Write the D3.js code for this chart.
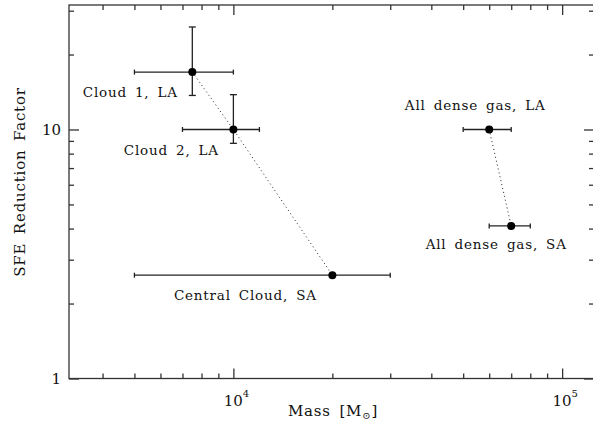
<!DOCTYPE html>
<html>
<head>
<meta charset="utf-8">
<script src="https://cdn.jsdelivr.net/npm/d3@7"></script>
<style>
  body { margin: 0; background: #fff; }
  svg { display: block; }
  text { font-family: "DejaVu Serif", "Liberation Serif", serif; fill: #111; }
  .wide { letter-spacing: 0.8px; word-spacing: 3px; }
  .axis path, .axis line { stroke: #333; stroke-width: 1.3; }
</style>
</head>
<body>
<svg id="chart" width="593" height="435"></svg>
<script>
// values
const names = ["Cloud 1, LA", "Cloud 2, LA", "Central Cloud, SA", "All dense gas, LA", "All dense gas, SA"]
const mass = [7500, 10000, 20000, 60000, 70000]
const massLow = [5000, 7000, 5000, 50000, 60000]
const massHigh = [10000, 12000, 30000, 70000, 80000]
const sfe = [17, 10, 2.6, 10, 4.1]
const sfeLow = [13.7, 8.8, null, null, null]
const sfeHigh = [25.8, 13.8, null, null, null]
const chains = [[0, 1, 2], [3, 4]]

const xMajor = [1e4, 1e5]
const xMinor = [4000, 5000, 6000, 7000, 8000, 9000, 20000, 30000, 40000, 50000, 60000, 70000, 80000, 90000]
const yMajor = [1, 10]
const yMinor = [2, 3, 4, 5, 6, 7, 8, 9, 20, 30]

// label placement relative to its point (centre of text, baseline)
const labelShift = [[-62, 25], [-62, 26], [-87, 25], [-14, -19], [-15, 23]]

let svg = d3.select('#chart')
let padLeft = 69, padRight = 594, padTop = 5, padBottom = 378.5

let xScale = d3.scaleLog().domain([3162, 125000]).range([padLeft, padRight])
let yScale = d3.scaleLog().domain([1, 31.62]).range([padBottom, padTop])

// frame
svg.append('rect').attr('x', padLeft).attr('y', padTop).attr('width', padRight - padLeft).attr('height', padBottom - padTop)
   .attr('fill', 'none').attr('stroke', '#333').attr('stroke-width', 1.3)

function addAxis(axisFn, ticks, size, transform){
    svg.append('g').attr('class', 'axis').attr('transform', transform)
       .call(axisFn.tickValues(ticks).tickSize(size).tickFormat(''))
       .call(g => g.select('.domain').remove())
}
addAxis(d3.axisBottom(xScale), xMajor, -10, `translate(0,${padBottom})`)
addAxis(d3.axisBottom(xScale), xMinor, -5, `translate(0,${padBottom})`)
addAxis(d3.axisTop(xScale), xMajor, -10, `translate(0,${padTop})`)
addAxis(d3.axisTop(xScale), xMinor, -5, `translate(0,${padTop})`)
addAxis(d3.axisLeft(yScale), yMajor, -10, `translate(${padLeft},0)`)
addAxis(d3.axisLeft(yScale), yMinor, -5, `translate(${padLeft},0)`)
addAxis(d3.axisRight(yScale), yMajor, -10, `translate(${padRight},0)`)
addAxis(d3.axisRight(yScale), yMinor, -5, `translate(${padRight},0)`)

// tick labels
svg.selectAll('.xlab').data(xMajor).join('text').attr('class', 'xlab')
   .attr('x', d => xScale(d) + 3).attr('y', padBottom + 27).attr('text-anchor', 'middle')
   .style('font-size', '15px')
   .each(function(d){
       let t = d3.select(this)
       t.append('tspan').text('10')
       t.append('tspan').text(Math.round(Math.log10(d))).attr('dy', -9).style('font-size', '10px')
   })
svg.selectAll('.ylab').data(yMajor).join('text').attr('class', 'ylab')
   .attr('x', padLeft - 8).attr('y', d => yScale(d) + 5.5).attr('text-anchor', 'end')
   .style('font-size', '15px').text(d => d)

// axis titles
let xt = svg.append('text').attr('class', 'wide').attr('x', 333).attr('y', 416).attr('text-anchor', 'middle').style('font-size', '15px')
xt.append('tspan').text('Mass [M')
xt.append('tspan').text('\u2299').attr('dy', 3).style('font-size', '10px')
xt.append('tspan').text(']').attr('dy', -3)
svg.append('text').attr('class', 'wide').attr('transform', 'translate(25,182) rotate(-90)').attr('text-anchor', 'middle')
   .style('font-size', '15px').text('SFE Reduction Factor')

// dotted connections
for (let chain of chains){
    svg.append('path').datum(chain).attr('fill', 'none').attr('stroke', '#222').attr('stroke-width', 1)
       .attr('stroke-dasharray', '1,3')
       .attr('d', d3.line().x(i => xScale(mass[i])).y(i => yScale(sfe[i])))
}

let idx = d3.range(names.length)
let bars = svg.append('g').attr('stroke', '#222').attr('stroke-width', 1.3)
// horizontal error bars
bars.selectAll('.xe').data(idx).join('line').attr('class', 'xe')
    .attr('x1', i => xScale(massLow[i])).attr('x2', i => xScale(massHigh[i]))
    .attr('y1', i => yScale(sfe[i])).attr('y2', i => yScale(sfe[i]))
bars.selectAll('.xc').data(idx.flatMap(i => [[i, massLow[i]], [i, massHigh[i]]])).join('line').attr('class', 'xc')
    .attr('x1', d => xScale(d[1])).attr('x2', d => xScale(d[1]))
    .attr('y1', d => yScale(sfe[d[0]]) - 2.5).attr('y2', d => yScale(sfe[d[0]]) + 2.5)
// vertical error bars
let withY = idx.filter(i => sfeLow[i] !== null)
bars.selectAll('.ye').data(withY).join('line').attr('class', 'ye')
    .attr('x1', i => xScale(mass[i])).attr('x2', i => xScale(mass[i]))
    .attr('y1', i => yScale(sfeLow[i])).attr('y2', i => yScale(sfeHigh[i]))
bars.selectAll('.yc').data(withY.flatMap(i => [[i, sfeLow[i]], [i, sfeHigh[i]]])).join('line').attr('class', 'yc')
    .attr('x1', d => xScale(mass[d[0]]) - 3.5).attr('x2', d => xScale(mass[d[0]]) + 3.5)
    .attr('y1', d => yScale(d[1])).attr('y2', d => yScale(d[1]))

// points
svg.selectAll('.pt').data(idx).join('circle').attr('class', 'pt')
   .attr('cx', i => xScale(mass[i])).attr('cy', i => yScale(sfe[i])).attr('r', 4).attr('fill', '#000')

// point labels
svg.selectAll('.plab').data(idx).join('text').attr('class', 'plab wide')
   .attr('x', i => xScale(mass[i]) + labelShift[i][0]).attr('y', i => yScale(sfe[i]) + labelShift[i][1])
   .attr('text-anchor', 'middle').style('font-size', '13.5px').text(i => names[i])
</script>
</body>
</html>
